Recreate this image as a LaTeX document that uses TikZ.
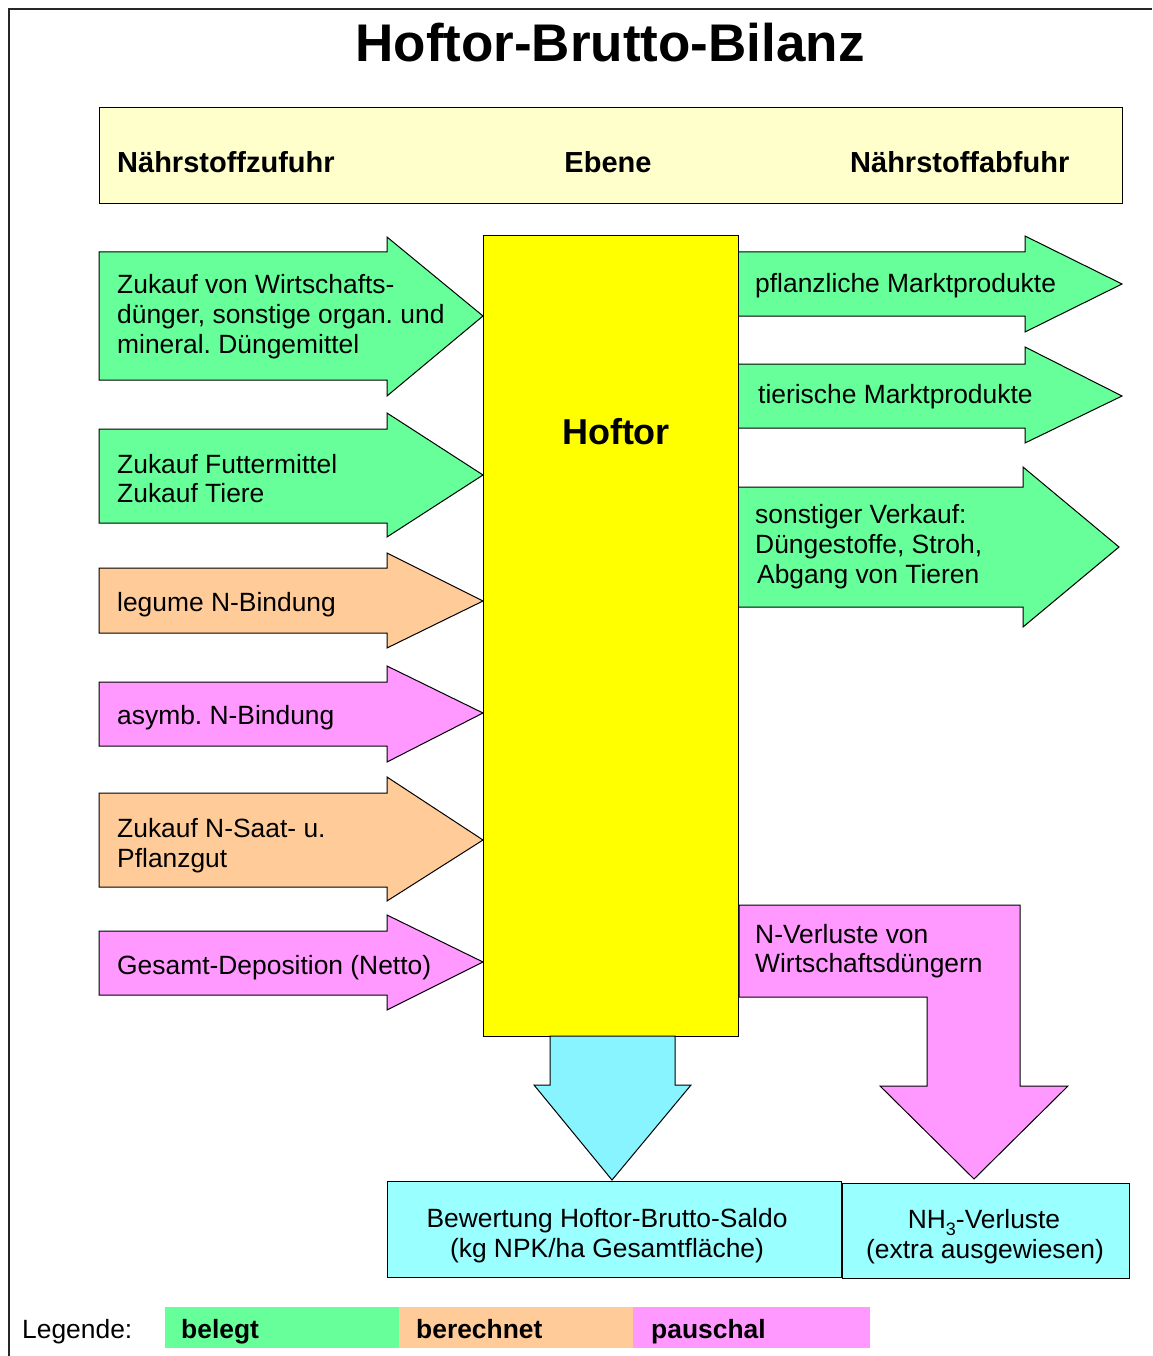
\documentclass[tikz,border=0pt]{standalone}
\usepackage{fontspec}
\setmainfont{Liberation Sans}
\frenchspacing
\definecolor{cgreen}{HTML}{66FF99}
\definecolor{corange}{HTML}{FFCC99}
\definecolor{cpink}{HTML}{FF99FF}
\definecolor{cyellow}{HTML}{FFFF00}
\definecolor{cheader}{HTML}{FFFFCC}
\definecolor{cbox}{HTML}{99FFFF}
\definecolor{carrow}{HTML}{88F4FF}
\tikzset{
  shapeline/.style={draw=black, line width=1.0pt, line join=miter},
  txt/.style={anchor=base west, inner sep=0pt, font=\fontsize{26.4}{30}\selectfont},
  ctxt/.style={anchor=base, inner sep=0pt, font=\fontsize{26.4}{30}\selectfont},
  head/.style={anchor=base west, inner sep=0pt, font=\fontsize{29}{34}\selectfont\bfseries},
  legtxt/.style={anchor=base west, inner sep=0pt, font=\fontsize{26.4}{30}\selectfont\bfseries},
}
\begin{document}
\begin{tikzpicture}[x=1pt,y=-1pt]
\useasboundingbox (0,0) rectangle (1152,1356);
% frame
\draw[line width=1.2pt, draw=black!85] (9,1356) -- (9,9) -- (1152,9);
% title
\node[anchor=base, inner sep=0pt, font=\fontsize{53}{60}\selectfont\bfseries] (title) at (610,62) {Hoftor-Brutto-Bilanz};
% header
\path[shapeline, fill=cheader] (99,108) rectangle (1122,204);
\node[head] (hzu) at (117,173) {Nährstoffzufuhr};
\node[head, anchor=base] (heb) at (608,173) {Ebene};
\node[head] (hab) at (850,173) {Nährstoffabfuhr};
% left arrows
\path[shapeline, fill=cgreen] (99,252) -- (387,252) -- (387,237) -- (483,316) -- (387,396) -- (387,380) -- (99,380) -- cycle;
\node[txt] (l1a) at (117,293) {Zukauf von Wirtschafts-};
\node[txt] (l1b) at (117,323) {dünger, sonstige organ. und};
\node[txt] (l1c) at (117,353) {mineral. Düngemittel};
\path[shapeline, fill=cgreen] (99,429) -- (387,429) -- (387,413) -- (483,475) -- (387,537) -- (387,523) -- (99,523) -- cycle;
\node[txt] (l2a) at (117,473) {Zukauf Futtermittel};
\node[txt] (l2b) at (117,502) {Zukauf Tiere};
\path[shapeline, fill=corange] (99,568) -- (387,568) -- (387,553) -- (483,601) -- (387,648) -- (387,633) -- (99,633) -- cycle;
\node[txt] (l3) at (117,611) {legume N-Bindung};
\path[shapeline, fill=cpink] (99,682) -- (387,682) -- (387,666) -- (483,713) -- (387,762) -- (387,746) -- (99,746) -- cycle;
\node[txt] (l4) at (117,724) {asymb. N-Bindung};
\path[shapeline, fill=corange] (99,793) -- (387,793) -- (387,777) -- (483,840) -- (387,901) -- (387,887) -- (99,887) -- cycle;
\node[txt] (l5a) at (117,837) {Zukauf N-Saat- u.};
\node[txt] (l5b) at (117,867) {Pflanzgut};
\path[shapeline, fill=cpink] (99,931) -- (387,931) -- (387,915) -- (483,962) -- (387,1010) -- (387,995) -- (99,995) -- cycle;
\node[txt] (l6) at (117,974) {Gesamt-Deposition (Netto)};
% right arrows
\path[shapeline, fill=cgreen] (738,252) -- (1025,252) -- (1025,236) -- (1122,284) -- (1025,332) -- (1025,316) -- (738,316) -- cycle;
\node[txt] (r1) at (755,292) {pflanzliche Marktprodukte};
\path[shapeline, fill=cgreen] (738,364) -- (1025,364) -- (1025,347) -- (1122,396) -- (1025,443) -- (1025,428) -- (738,428) -- cycle;
\node[txt] (r2) at (758,403) {tierische Marktprodukte};
\path[shapeline, fill=cgreen] (738,487) -- (1023,487) -- (1023,467) -- (1119,547) -- (1023,627) -- (1023,607) -- (738,607) -- cycle;
\node[txt] (r3a) at (755,523) {sonstiger Verkauf:};
\node[txt] (r3b) at (755,553) {Düngestoffe, Stroh,};
\node[txt] (r3c) at (757,583) {Abgang von Tieren};
% Hoftor
\path[shapeline, fill=cyellow] (483,236) rectangle (738,1036);
\node[anchor=base, inner sep=0pt, font=\fontsize{36}{40}\selectfont\bfseries] (hoftor) at (616,444) {Hoftor};
% pink L arrow
\path[shapeline, fill=cpink] (739,905) -- (1020,905) -- (1020,1086) -- (1068,1086) -- (974,1179) -- (880,1086) -- (927,1086) -- (927,997) -- (739,997) -- cycle;
\node[txt] (p1) at (755,943) {N-Verluste von};
\node[txt] (p2) at (755,972) {Wirtschaftsdüngern};
% cyan arrow
\path[shapeline, fill=carrow] (550,1036) -- (675,1036) -- (675,1085) -- (691,1085) -- (612,1180) -- (534,1085) -- (550,1085) -- cycle;
% bottom boxes
\path[shapeline, fill=cbox] (387,1181) rectangle (841,1277);
\node[ctxt] (b1a) at (607,1227) {Bewertung Hoftor-Brutto-Saldo};
\node[ctxt] (b1b) at (607,1257) {(kg NPK/ha Gesamtfläche)};
\path[shapeline, fill=cbox] (842,1183) rectangle (1129,1278);
\node[ctxt] (b2a) at (984,1228) {NH\raisebox{-0.3em}{\fontsize{18}{20}\selectfont 3}-Verluste};
\node[ctxt] (b2b) at (985,1258) {(extra ausgewiesen)};
% legend
\node[txt] (leg) at (22,1338) {Legende:};
\fill[cgreen] (165,1307) rectangle (399,1348);
\fill[corange] (399,1307) rectangle (633,1348);
\fill[cpink] (633,1307) rectangle (870,1348);
\node[legtxt] (lg1) at (181,1338) {belegt};
\node[legtxt] (lg2) at (416,1338) {berechnet};
\node[legtxt] (lg3) at (651,1338) {pauschal};
\end{tikzpicture}
\end{document}
